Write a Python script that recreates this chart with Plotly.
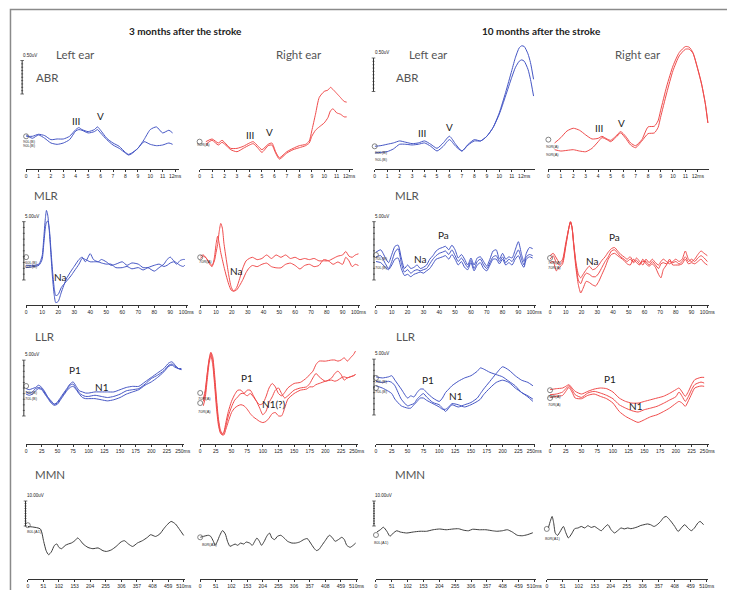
import plotly.graph_objects as go

W, H = 735, 590

# ---------------- data: latency (ms) and amplitude (uV) ----------------
# ABR, 3 months, left ear
abr3L_ms = [0, 0.5, 1, 1.5, 2, 2.5, 3, 3.5, 4, 4.25, 4.5, 5, 5.5, 5.75, 6, 6.5, 7, 7.5, 8, 8.25, 8.5, 9, 9.5, 10, 10.5, 11, 11.5, 11.8]
abr3L_1 = [0, 0, 0.03, 0.01, -0.05, -0.04, -0.04, 0, 0.1, 0.13, 0.1, 0.07, 0.1, 0.14, 0.09, -0.03, -0.1, -0.15, -0.24, -0.27, -0.25, -0.18, -0.05, 0.1, 0.14, 0.05, 0.09, 0.05]
abr3L_2 = [0.02, -0.03, 0.02, -0.03, -0.1, -0.12, -0.1, -0.05, 0.08, 0.1, 0.09, 0.05, 0.07, 0.1, 0.05, -0.05, -0.13, -0.18, -0.25, -0.28, -0.26, -0.18, -0.08, -0.12, -0.14, -0.13, -0.1, -0.12]

# ABR, 3 months, right ear
abr3R_ms = [0.5, 1, 1.5, 1.8, 2.2, 2.5, 3, 3.5, 4, 4.3, 4.7, 5, 5.5, 5.8, 6.1, 6.4, 7, 7.5, 8, 8.5, 8.8, 9, 9.3, 9.6, 10, 10.3, 10.5, 10.7, 11, 11.3, 11.6, 11.8]
abr3R_1 = [0.02, 0.06, 0, 0.04, -0.03, -0.08, -0.08, -0.05, 0, 0.02, -0.05, -0.1, -0.02, 0, -0.13, -0.22, -0.13, -0.08, -0.04, -0.02, 0.03, 0.18, 0.43, 0.68, 0.77, 0.79, 0.83, 0.8, 0.74, 0.68, 0.62, 0.61]
abr3R_2 = [-0.02, 0.04, -0.03, 0.01, -0.05, -0.1, -0.13, -0.08, -0.03, -0.01, -0.08, -0.14, -0.04, -0.03, -0.15, -0.24, -0.15, -0.1, -0.07, -0.04, 0, 0.1, 0.19, 0.24, 0.3, 0.38, 0.48, 0.51, 0.45, 0.43, 0.39, 0.39]

# ABR, 10 months, left ear
abr10L_ms = [0, 0.5, 1, 1.5, 2, 2.5, 3, 3.5, 4, 4.5, 5, 5.5, 6, 6.5, 7, 7.5, 8, 8.5, 9, 9.5, 10, 10.5, 11, 11.3, 11.6, 11.8, 12, 12.3, 12.5, 12.75]
abr10L_1 = [0, 0.01, 0.03, 0.05, 0.08, 0.06, 0.04, 0.05, 0.08, 0.03, -0.03, 0.05, 0.15, 0.03, -0.07, 0.03, 0.1, 0.08, 0.15, 0.28, 0.5, 0.8, 1.13, 1.33, 1.47, 1.5, 1.49, 1.38, 1.25, 1.0]
abr10L_2 = [-0.1, -0.09, -0.08, -0.04, 0.03, 0.03, 0.02, 0.03, 0.05, 0, -0.07, 0, 0.1, 0, -0.07, 0.02, 0.08, 0.08, 0.15, 0.28, 0.48, 0.75, 1.03, 1.18, 1.27, 1.29, 1.27, 1.15, 1.0, 0.75]

# ABR, 10 months, right ear
abr10R_ms = [0.5, 1, 1.5, 2, 2.5, 3, 3.5, 4, 4.3, 4.7, 5, 5.4, 5.8, 6.2, 6.6, 7, 7.5, 8, 8.5, 8.8, 9, 9.5, 10, 10.5, 11, 11.3, 11.6, 12, 12.3, 12.6, 12.8]
abr10R_1 = [0, 0.08, 0.18, 0.22, 0.19, 0.12, 0.06, 0.07, 0.1, 0.06, 0.04, 0.1, 0.17, 0.1, 0, -0.04, 0.05, 0.24, 0.25, 0.33, 0.48, 0.85, 1.15, 1.35, 1.44, 1.43, 1.35, 1.1, 0.88, 0.58, 0.3]
abr10R_2 = [-0.1, -0.12, -0.11, -0.1, -0.12, -0.13, -0.08, 0.02, 0.08, 0.05, 0.02, 0.08, 0.15, 0.07, -0.03, -0.07, 0.03, 0.14, 0.15, 0.23, 0.38, 0.75, 1.08, 1.3, 1.4, 1.4, 1.34, 1.09, 0.87, 0.58, 0.3]

# MLR, 3 months, left ear
mlr3L_ms = [0, 5, 8, 10, 11, 12, 12.7, 13.5, 14.5, 15.5, 16.5, 17.5, 18.5, 20, 22, 25, 28, 30, 33, 35, 37, 40, 42, 45, 47, 50, 53, 56, 60, 63, 66, 70, 73, 76, 80, 83, 86, 88, 90, 92, 94, 96, 98, 99]
mlr3L_1 = [0, 0, 0.1, 0.8, 2.3, 4.0, 4.7, 4.3, 2.9, 0.9, -1.1, -2.5, -3.2, -3.1, -2.3, -1.2, -0.5, -0.1, 0.5, 0.7, 0.3, 1.0, 0.5, 0.3, 0.5, 0.3, 0, 0.1, 0.3, 0, 0.2, 0.1, -0.2, -0.2, -0.5, -0.2, 0.1, 0.5, 0.7, 0.4, 0.2, 0, -0.1, 0]
mlr3L_2 = [-0.2, -0.1, 0, 0.5, 1.8, 3.2, 3.7, 3.8, 3.1, 1.3, -0.5, -1.9, -2.6, -2.5, -1.9, -1.4, -0.9, -0.5, 0.1, 0.6, 0.5, 0.3, 0.3, 0.3, 0.2, 0.1, 0.1, -0.2, -0.2, -0.1, -0.3, -0.2, -0.4, -0.2, 0, 0.1, -0.1, 0, 0.2, 0.3, 0.1, 0.4, 0.5, 0.5]

# MLR, 3 months, right ear
mlr3R_ms = [0, 2, 4, 6, 7.5, 9, 10, 11, 12, 13, 14, 15, 16.5, 18, 19.5, 21, 23, 25, 27, 29, 31, 33, 36, 39, 42, 45, 48, 51, 54, 57, 60, 63, 66, 69, 72, 75, 78, 81, 84, 87, 90, 92, 94, 96, 98, 100]
mlr3R_1 = [0.1, 0.2, -0.1, -0.6, -0.8, 0, 1.1, 1.8, 1.2, 0.4, -0.2, -0.8, -1.6, -2.3, -2.8, -2.9, -2.6, -1.8, -0.9, -0.3, -0.1, 0, -0.2, -0.1, 0.2, -0.1, 0.2, 0, 0.2, -0.1, 0, -0.2, -0.1, -0.2, -0.1, -0.3, -0.3, -0.3, -0.1, 0.1, 0.2, 0.5, 0.1, 0, 0.2, 0.3]
mlr3R_2 = [-0.1, 0.1, -0.1, -0.5, -0.7, -0.3, 0.4, 1.1, 2.2, 2.9, 2.5, 1.2, -0.2, -1.5, -2.5, -2.9, -2.8, -2.4, -1.9, -1.3, -0.9, -0.7, -0.8, -0.6, -0.5, -0.8, -0.9, -0.9, -0.6, -0.5, -0.7, -1.0, -0.7, -0.6, -0.8, -0.7, -0.2, -0.3, -0.6, -0.4, -0.6, 0, -0.3, -0.8, -0.6, -0.7]

# MLR, 10 months, left ear
mlr10L_ms = [0, 3, 6, 8, 10, 12, 14, 16, 18, 20, 22, 24, 26, 28, 30, 32, 34, 36, 38, 40, 42, 44, 46, 48, 50, 52, 54, 56, 58, 60, 62, 64, 66, 68, 70, 72, 74, 76, 78, 80, 82, 84, 86, 88, 90, 92, 93.5, 95, 97, 99]
mlr10L_1 = [0.5, 0.7, 0, -0.4, 0.3, 1.0, 1.1, 0, -0.9, -0.6, -0.9, -0.8, -0.6, -0.9, -0.8, -0.6, -0.1, 0.2, 0.6, 0.8, 0.9, 1.0, 0.7, 1.1, 0.7, 0, 0.3, -0.1, -0.6, 0, -0.6, 0, 0.1, -0.3, -0.7, -0.1, 0.6, 0.7, -0.1, 0.4, -0.1, 0.1, 0, 0.7, 1.4, 0.3, -0.3, 0.4, 0.9, 0.8]
mlr10L_2 = [0.1, 0.2, -0.5, -0.9, -0.3, 0.5, 0.8, -0.4, -1.2, -1.0, -1.3, -1.1, -1.0, -1.1, -1.0, -0.9, -0.5, -0.1, 0.2, 0.4, 0.5, 0.6, 0.3, 0.7, 0.2, -0.3, 0, -0.4, -0.8, -0.2, -0.9, -0.3, -0.1, -0.6, -0.9, -0.4, 0.1, 0.2, -0.3, 0.1, -0.4, -0.1, -0.3, 0.2, 0.7, -0.1, -0.6, 0.1, 0.3, 0.2]
mlr10L_3 = [-0.3, -0.4, -0.8, -1.0, -0.6, -0.1, 0, -0.9, -1.5, -1.4, -1.6, -1.4, -1.3, -1.2, -1.3, -1.1, -0.9, -0.5, -0.1, 0, 0.1, 0.2, -0.1, 0.3, -0.1, -0.6, -0.3, -0.8, -1.0, -0.4, -1.1, -0.6, -0.4, -0.9, -1.1, -0.6, -0.1, -0.1, -0.5, -0.1, -0.6, -0.4, -0.6, -0.1, 0.2, -0.5, -0.8, -0.1, 0.1, 0]

# MLR, 10 months, right ear
mlr10R_ms = [0, 2, 4, 6, 8, 10, 12, 13, 14, 15, 16.5, 18, 19.5, 21, 23, 25, 27, 29, 31, 33, 35, 37, 39, 41, 43, 45, 47, 49, 51, 53, 55, 57, 59, 61, 63, 65, 67, 69, 70.5, 72, 74, 76, 78, 80, 82, 84, 86, 88, 90, 92, 94, 96, 98, 100]
mlr10R_1 = [0.2, 0.4, 0, -0.4, -0.1, 1.3, 2.6, 3.1, 2.6, 1.3, -0.4, -1.4, -1.7, -1.4, -1.0, -0.7, -1.0, -0.9, -0.6, -0.2, 0.1, 0.5, 0.8, 0.9, 0.6, 0.3, 0.1, -0.1, 0.1, -0.3, 0, -0.3, -0.6, -0.1, -0.4, -0.1, -0.4, -0.6, -0.3, -0.1, -0.3, -0.5, -0.3, -0.1, -0.3, -0.1, 0.6, -0.1, -0.3, -0.1, 0.3, 0.6, 0.4, 0.2]
mlr10R_2 = [-0.1, 0.2, -0.4, -0.6, -0.3, 1.1, 2.6, 3.1, 2.6, 1.3, -0.6, -1.9, -2.2, -1.7, -1.3, -1.4, -1.6, -1.6, -1.3, -0.8, -0.3, 0.1, 0.6, 0.7, 0.4, 0.1, -0.1, -0.3, -0.1, -0.4, -0.2, -0.5, -0.3, -0.3, -0.6, -0.3, -0.6, -0.9, -0.5, -0.4, -0.5, -0.3, -0.4, -0.3, -0.5, -0.3, 0.1, -0.3, -0.1, -0.3, 0, 0.2, 0, -0.3]
mlr10R_3 = [-0.4, -0.3, -1.1, -0.8, -0.5, 1.0, 2.6, 3.1, 2.6, 1.1, -0.9, -2.3, -3.0, -2.6, -2.0, -2.1, -2.3, -2.4, -2.0, -1.4, -0.8, -0.1, 0.3, 0.4, 0.2, 0, -0.2, -0.5, -0.6, -0.1, -0.4, -0.6, -0.1, -0.5, -0.7, -0.5, -0.8, -1.4, -1.7, -1.0, -0.6, -0.1, -0.6, -0.6, -0.6, -0.5, -0.1, -0.5, -0.4, -0.5, -0.3, -0.1, -0.4, -0.6]

# LLR, 3 months, left ear
llr3L_ms = [0, 5, 10, 15, 20, 25, 30, 35, 40, 45, 50, 55, 60, 65, 70, 75, 80, 85, 90, 95, 100, 110, 120, 130, 140, 150, 160, 170, 180, 190, 200, 210, 220, 228, 233, 238, 243, 248]
llr3L_1 = [0.1, 0, 0.1, 0.2, 0.4, 0.2, -0.2, -0.7, -1.0, -1.3, -1.1, -0.7, -0.3, 0.1, 0.5, 0.7, 0.3, -0.1, -0.2, -0.3, -0.3, -0.2, -0.2, -0.2, -0.2, 0, 0.2, 0.3, 0.3, 0.7, 1.1, 1.5, 1.9, 2.4, 2.5, 2.2, 1.9, 1.9]
llr3L_2 = [-0.2, -0.3, -0.2, 0.1, 0.2, 0.1, -0.3, -0.7, -1.1, -1.3, -1.2, -0.8, -0.4, 0, 0.4, 0.5, 0.1, -0.3, -0.5, -0.6, -0.6, -0.5, -0.6, -0.7, -0.6, -0.4, -0.1, 0, 0.1, 0.5, 1.0, 1.3, 1.7, 2.2, 2.3, 2.1, 1.9, 1.8]
llr3L_3 = [-0.4, -0.5, -0.4, -0.1, 0.1, 0, -0.4, -0.8, -1.2, -1.4, -1.3, -0.9, -0.5, -0.1, 0.2, 0.3, 0, -0.4, -0.7, -0.8, -0.8, -0.8, -0.9, -1.0, -0.9, -0.7, -0.4, -0.2, 0, 0.4, 0.7, 1.1, 1.6, 2.1, 2.2, 2.0, 1.9, 1.8]

# LLR, 3 months, right ear
llr3R_ms = [5, 8, 11, 14, 17, 20, 23, 26, 29, 32, 35, 38, 41, 45, 50, 55, 60, 65, 70, 75, 80, 85, 90, 95, 100, 105, 110, 115, 120, 125, 130, 135, 140, 150, 160, 170, 175, 180, 185, 190, 200, 210, 215, 220, 225, 230, 235, 240, 245, 248]
llr3R_1 = [-0.1, 0.7, 2.1, 3.4, 4.1, 3.7, 2.1, 0, -1.8, -2.8, -3.2, -3.0, -2.2, -1.2, -0.3, 0.3, 0.7, 0.7, 0.4, 0.2, 0.4, 0.1, -0.3, -0.6, -0.5, 0.1, 0.9, 1.3, 1.0, 0.4, 0.2, 0.5, 0.9, 1.3, 1.4, 1.8, 2.1, 2.4, 3.0, 3.3, 3.3, 3.4, 3.4, 3.3, 3.4, 3.6, 3.3, 3.6, 3.9, 4.2]
llr3R_2 = [-0.3, 0.4, 2.0, 3.3, 4.0, 3.4, 1.6, -0.4, -2.1, -3.0, -3.3, -3.1, -2.5, -1.6, -0.8, -0.2, 0.1, 0.4, 0.4, 0.7, 0.7, 0.2, -0.3, -0.9, -1.5, -1.2, -0.4, 0.1, 0.7, 0.9, 0.4, 0, 0.2, 0.7, 0.9, 1.0, 1.3, 1.8, 2.2, 1.9, 1.5, 1.8, 2.2, 2.4, 2.1, 1.6, 1.8, 1.9, 2.0, 2.1]
llr3R_3 = [-0.7, 0, 1.5, 3.0, 3.8, 3.0, 1.2, -0.9, -2.4, -3.1, -3.3, -3.3, -2.8, -2.1, -1.3, -0.9, -0.7, -0.6, -0.7, -1.0, -1.4, -1.7, -1.9, -2.1, -2.2, -2.1, -1.8, -1.4, -1.3, -1.6, -1.6, -0.9, -0.1, 0.4, 0.7, 0.8, 1.0, 1.0, 1.2, 1.3, 1.5, 1.6, 1.5, 1.6, 1.8, 1.9, 1.8, 1.9, 2.0, 2.1]

# LLR, 10 months, left ear
llr10L_ms = [0, 10, 20, 25, 30, 40, 50, 55, 60, 65, 70, 75, 80, 90, 100, 105, 110, 115, 120, 130, 140, 150, 160, 165, 170, 180, 190, 200, 210, 220, 230, 240, 248]
llr10L_1 = [0.4, 0.3, 0.4, 0.5, 0.1, -0.7, -1.5, -1.3, -1.4, -1.0, -0.7, -0.7, -1.0, -1.5, -1.8, -1.5, -1.0, -0.7, -0.4, 0, 0.3, 0.5, 0.9, 1.2, 1.1, 0.8, 0.6, 0.4, 0, -0.4, -1.0, -1.3, -1.6]
llr10L_2 = [0, -0.1, 0, -0.1, -0.4, -1.6, -2.2, -2.1, -2.0, -1.6, -1.3, -1.1, -1.4, -1.9, -2.1, -2.4, -2.7, -2.4, -2.1, -2.3, -2.1, -1.9, -1.5, -1.1, -0.7, 0, 0.7, 1.3, 1.0, 0.5, 0.1, -0.1, -0.4]
llr10L_3 = [-0.4, -0.6, -0.9, -1.1, -1.6, -2.2, -2.4, -2.4, -2.1, -1.8, -1.5, -1.5, -1.7, -2.0, -2.3, -2.5, -2.5, -2.3, -2.0, -2.1, -2.3, -2.1, -1.8, -1.6, -1.2, -0.6, -0.1, 0.1, -0.1, -0.6, -1.0, -1.4, -1.8]

# LLR, 10 months, right ear
llr10R_ms = [0, 10, 20, 25, 30, 35, 40, 50, 60, 70, 80, 90, 100, 110, 120, 130, 140, 150, 160, 170, 180, 190, 200, 205, 210, 215, 220, 225, 230, 240, 245]
llr10R_1 = [0.45, 0.54, 0.6, 0.75, 0.9, 0.6, 0.3, 0.06, 0.3, 0.5, 0.6, 0.54, 0.24, -0.3, -0.6, -0.75, -0.75, -0.6, -0.45, -0.3, -0.15, 0.12, 0.45, 0.6, 0.24, -0.15, 0.3, 0.9, 1.34, 1.55, 1.55]
llr10R_2 = [0, 0.06, 0.24, 0.54, 0.8, 0.45, 0, -0.24, 0.15, 0.3, 0.15, -0.06, -0.36, -0.9, -1.2, -1.43, -1.55, -1.34, -1.2, -1.04, -0.78, -0.48, -0.18, 0.24, -0.15, -0.6, -0.15, 0.45, 0.9, 1.13, 1.04]
llr10R_3 = [-0.24, -0.15, -0.06, 0.3, 0.66, 0.24, -0.3, -0.36, -0.06, 0.06, -0.15, -0.36, -0.75, -1.5, -1.94, -2.24, -2.48, -2.24, -1.97, -1.8, -1.52, -1.2, -0.78, -0.6, -0.75, -1.04, -0.54, 0.06, 0.6, 0.78, 0.75]

# MMN
mmn3L_ms = [0, 41, 52, 60, 68, 77, 87, 95, 102, 111, 122, 133, 143, 154, 163, 170, 181, 197, 213, 230, 246, 257, 273, 289, 305, 316, 329, 343, 359, 375, 391, 402, 418, 432, 445, 456, 469, 483, 497, 510]
mmn3L_v = [0.9, -0.1, -5.1, -8.8, -10.4, -9.3, -6.7, -6.1, -7.5, -8.0, -6.7, -6.1, -5.7, -4.8, -3.7, -4.4, -6.1, -7.5, -8.0, -7.7, -8.8, -9.1, -8.5, -7.1, -5.3, -4.8, -6.1, -7.1, -5.7, -4.8, -3.5, -2.4, -3.1, -2.1, 0, 1.6, 2.9, 1.9, -0.4, -2.7]

mmn3R_ms = [0, 27, 34, 43, 49, 56, 64, 73, 82, 89, 97, 105, 114, 122, 132, 142, 150, 161, 170, 178, 185, 193, 200, 209, 217, 226, 234, 243, 252, 263, 274, 285, 299, 311, 324, 338, 349, 360, 371, 379, 387, 397, 408, 421, 430, 440, 451, 462, 470, 478, 489, 499, 507]
mmn3R_v = [0, 0.8, 0.4, -1.6, -3.2, -1.6, 0.8, 2.7, 1.3, -1.6, -3.6, -3.2, -2.7, -3.2, -2.3, -2.7, -1.9, -2.3, -3.2, -1.6, -0.3, -1.6, -3.2, -1.6, 0.4, 1.7, -0.3, -0.9, 0.4, 0.8, -0.3, -1.6, -2.3, -2.3, -1.9, -0.9, -0.5, -2.3, -4.3, -5.3, -4.9, -3.2, -1.3, 0.8, 0, -1.6, -0.9, 0, -0.9, -3.2, -4.0, -3.2, -2.3]

mmn10L_ms = [3, 14, 24, 35, 45, 56, 67, 78, 99, 120, 142, 163, 184, 205, 226, 248, 266, 283, 298, 311, 333, 354, 375, 389, 407, 423, 439, 455, 471, 487, 505]
mmn10L_v = [0.4, 1.3, 2.3, 0.7, -1.3, 0, 0.9, 0.4, 0, 0.4, 0.7, 0.7, 1.3, 1.6, 1.3, 1.6, 1.7, 1.1, 0.9, 1.5, 1.3, 1.3, 0.9, 0.7, 0.9, 1.3, 0.4, -0.9, -1.1, -0.7, 0.1]

mmn10R_ms = [5, 11, 17, 22, 27, 34, 42, 53, 61, 69, 79, 89, 100, 110, 121, 131, 142, 152, 163, 174, 184, 195, 205, 216, 226, 237, 247, 258, 268, 279, 289, 300, 310, 321, 331, 342, 352, 363, 373, 381, 389, 400, 408, 419, 429, 440, 450, 461, 471, 482, 489, 500]
mmn10R_v = [0.7, 3.3, 5.3, 2.7, -1.3, -2.3, -0.9, 1.3, -1.3, -3.3, -1.7, 0.4, 0.7, 1.3, 0.7, 1.6, 0.9, 1.3, 0.4, -0.4, 0.9, 2.0, 0, -1.3, -0.4, 0.7, 0.3, 0.7, 0.4, 0.7, 1.1, 1.7, 2.0, 2.3, 2.0, 1.3, 2.0, 3.3, 4.9, 5.3, 4.4, 2.7, 1.3, -0.7, 0.7, 2.0, 0.7, -0.4, 0.7, 2.7, 3.3, 2.0]

abr_ticks = list(range(0, 13))
mlr_ticks = list(range(0, 101, 10))
llr_ticks = list(range(0, 251, 25))
mmn_ticks = list(range(0, 511, 51))

# ---------------- layout ----------------
BLUE = "#4556c4"
RED = "#ef4b4b"
BLACK = "#3c3c3c"
LABEL_FONT = "Lato, Liberation Sans, sans-serif"
SMALL_FONT = "Liberation Sans, Arial, sans-serif"

# axis line y, top of plot area (px), px per uV, ticks, scale bar amplitude and text
rows = {
    "ABR": dict(axis=161, top=28, ppu=67.0, ticks=abr_ticks, bar=0.5, bar_txt="0.50uV"),
    "MLR": dict(axis=297, top=175, ppu=11.67, ticks=mlr_ticks, bar=5, bar_txt="5.00uV"),
    "LLR": dict(axis=436, top=315, ppu=11.17, ticks=llr_ticks, bar=5, bar_txt="5.00uV"),
    "MMN": dict(axis=571, top=455, ppu=2.5, ticks=mmn_ticks, bar=10, bar_txt="10.00uV"),
}

panels = [
    dict(row="ABR", x0=17.3, ppms=12.55, xmax=12.3, base=128.3, color=BLUE, x=abr3L_ms, ys=[abr3L_1, abr3L_2],
         marks=[0], tags=[("90L(B)", 12.5, 133), ("90L(B)", 12.5, 137)], bar=(13.3, 86),
         peaks=[("III", 4.0, 0.23), ("V", 6.0, 0.3)]),
    dict(row="ABR", x0=192.7, ppms=12.6, xmax=12.3, base=135, color=RED, x=abr3R_ms, ys=[abr3R_1, abr3R_2],
         marks=[0.02], tags=[("90R(A)", 188, 136)],
         peaks=[("III", 4.07, 0.12), ("V", 5.6, 0.16)]),
    dict(row="ABR", x0=369.7, ppms=12.6, xmax=12.9, base=138.3, color=BLUE, x=abr10L_ms, ys=[abr10L_1, abr10L_2],
         marks=[0], tags=[("90L(B)", 368, 144), ("90L(B)", 368, 151)], bar=(368.5, 83.5),
         peaks=[("III", 3.83, 0.2), ("V", 6.03, 0.29)]),
    dict(row="ABR", x0=545.3, ppms=12.6, xmax=12.9, base=135, color=RED, x=abr10R_ms, ys=[abr10R_1, abr10R_2],
         marks=[0.05], tags=[("90R(A)", 541, 138), ("90R(A)", 541, 146)],
         peaks=[("III", 4.1, 0.22), ("V", 5.87, 0.3)]),
    dict(row="MLR", x0=17.3, ppms=1.62, xmax=101, base=257.3, color=BLUE, x=mlr3L_ms, ys=[mlr3L_1, mlr3L_2],
         marks=[0.7], tags=[("60L(B)", 14, 254), ("60L(B)", 14, 258)], bar=(15, 272),
         peaks=[("Na", 21.2, -0.98)]),
    dict(row="MLR", x0=193.3, ppms=1.6, xmax=101, base=249.3, color=RED, x=mlr3R_ms, ys=[mlr3R_1, mlr3R_2],
         marks=[0], tags=[("70R(A)", 190, 253)],
         peaks=[("Na", 22.9, -1.15)]),
    dict(row="MLR", x0=371, ppms=1.6, xmax=101, base=250, color=BLUE, x=mlr10L_ms, ys=[mlr10L_1, mlr10L_2, mlr10L_3],
         marks=[0.26], tags=[("70L(B)", 368, 250), ("70L(B)", 368, 259)], bar=(369, 272),
         peaks=[("Na", 27.7, -0.09), ("Pa", 42.7, 1.94)]),
    dict(row="MLR", x0=547, ppms=1.59, xmax=101, base=250, color=RED, x=mlr10R_ms, ys=[mlr10R_1, mlr10R_2, mlr10R_3],
         marks=[0], tags=[("70R(A)", 543, 255), ("70R(A)", 543, 259)],
         peaks=[("Na", 26.7, -0.23), ("Pa", 40.7, 1.77)]),
    dict(row="LLR", x0=17.3, ppms=0.633, xmax=252, base=381.7, color=BLUE, x=llr3L_ms, ys=[llr3L_1, llr3L_2, llr3L_3],
         marks=[0.33], tags=[("70L(B)", 14, 384), ("70L(B)", 14, 390)], bar=(15, 408),
         peaks=[("P1", 78, 1.74), ("N1", 121, 0.27)]),
    dict(row="LLR", x0=193.3, ppms=0.633, xmax=252, base=390, color=RED, x=llr3R_ms, ys=[llr3R_1, llr3R_2, llr3R_3],
         marks=[0.45, -0.45], tags=[("70R(A)", 189, 390), ("70R(A)", 189, 403)],
         peaks=[("P1", 74.5, 1.79), ("N1(?)", 118, -0.54)]),
    dict(row="LLR", x0=371, ppms=0.64, xmax=252, base=373.3, color=BLUE, x=llr10L_ms, ys=[llr10L_1, llr10L_2, llr10L_3],
         marks=[0.3, -0.6], tags=[("70L(B)", 368, 373), ("70L(B)", 368, 383)], bar=(369, 407),
         peaks=[("P1", 81.5, 0.14), ("N1", 126.5, -1.34)]),
    dict(row="LLR", x0=547, ppms=0.636, xmax=252, base=386.7, color=RED, x=llr10R_ms, ys=[llr10R_1, llr10R_2, llr10R_3],
         marks=[0.4, -0.3], tags=[("70R(A)", 543, 388), ("70R(A)", 543, 396)],
         peaks=[("P1", 95.5, 1.4), ("N1", 136.5, -1.04)]),
    dict(row="MMN", x0=19, ppms=0.309, xmax=515, base=520.7, color=BLACK, x=mmn3L_ms, ys=[mmn3L_v],
         marks=[1.4], tags=[("80L(A1)", 16, 523)], bar=(16.7, 518), peaks=[]),
    dict(row="MMN", x0=193.3, ppms=0.31, xmax=515, base=529.3, color=BLACK, x=mmn3R_ms, ys=[mmn3R_v],
         marks=[0], tags=[("80R(A1)", 193, 536)], peaks=[]),
    dict(row="MMN", x0=371, ppms=0.314, xmax=515, base=525, color=BLACK, x=mmn10L_ms, ys=[mmn10L_v],
         marks=[-0.8], tags=[("80L(A1)", 367, 534)], bar=(369, 518), peaks=[]),
    dict(row="MMN", x0=543.7, ppms=0.317, xmax=515, base=521.7, color=BLACK, x=mmn10R_ms, ys=[mmn10R_v],
         marks=[0.3], tags=[("80R(A1)", 540, 530)], peaks=[]),
]


def fx(px):
    return px / W


def fy(py):
    return 1 - py / H


fig = go.Figure()
axes = {}
annotations = []
shapes = []

for i, p in enumerate(panels, start=1):
    r = rows[p["row"]]
    xa, ya = ("x", "y") if i == 1 else (f"x{i}", f"y{i}")
    xkey, ykey = ("xaxis", "yaxis") if i == 1 else (f"xaxis{i}", f"yaxis{i}")
    ticktext = [str(t) for t in r["ticks"]]
    ticktext[-1] += "ms"
    axes[xkey] = dict(
        domain=[fx(p["x0"]), fx(p["x0"] + p["xmax"] * p["ppms"])], range=[0, p["xmax"]],
        anchor=ya, showgrid=False, zeroline=False, showline=True, linecolor="#333", linewidth=1,
        ticks="outside", ticklen=2, tickwidth=1, tickcolor="#333",
        tickvals=r["ticks"], ticktext=ticktext,
        tickfont=dict(family=SMALL_FONT, size=5, color="#222"), fixedrange=True,
    )
    lo = -(r["axis"] - p["base"]) / r["ppu"]
    hi = (p["base"] - r["top"]) / r["ppu"]
    axes[ykey] = dict(domain=[fy(r["axis"]), fy(r["top"])], range=[lo, hi], anchor=xa,
                      visible=False, fixedrange=True)

    for ys in p["ys"]:
        fig.add_trace(go.Scatter(x=p["x"], y=ys, xaxis=xa, yaxis=ya, mode="lines",
                                 line=dict(color=p["color"], width=1, shape="spline", smoothing=0.6),
                                 hoverinfo="skip", showlegend=False))

    # start markers (open circles at the baseline)
    fig.add_trace(go.Scatter(x=[0] * len(p["marks"]), y=p["marks"], xaxis=xa, yaxis=ya,
                             mode="markers", cliponaxis=False,
                             marker=dict(symbol="circle-open", size=5, color="#666", line=dict(width=0.8)),
                             hoverinfo="skip", showlegend=False))

    for txt, tx, ty in p["tags"]:
        annotations.append(dict(text=txt, x=fx(tx), y=fy(ty), xref="paper", yref="paper",
                                xanchor="left", yanchor="middle", showarrow=False,
                                font=dict(family=SMALL_FONT, size=4, color="#333")))

    for txt, lx, ly in p["peaks"]:
        annotations.append(dict(text=txt, x=lx, y=ly, xref=xa, yref=ya, showarrow=False,
                                xanchor="center", yanchor="middle",
                                font=dict(family=LABEL_FONT, size=10, color="#222")))

    if "bar" in p:
        bx, bbot = p["bar"]
        y0 = (p["base"] - bbot) / r["ppu"]
        y1 = y0 + r["bar"]
        shapes.append(dict(type="line", xref="paper", yref=ya, x0=fx(bx), x1=fx(bx), y0=y0, y1=y1,
                           line=dict(color="#333", width=1)))
        for k in range(11):
            half = 1.8 if k in (0, 10) else 1.0
            yk = y0 + k * r["bar"] / 10
            shapes.append(dict(type="line", xref="paper", yref=ya, x0=fx(bx - half), x1=fx(bx + half),
                               y0=yk, y1=yk, line=dict(color="#333", width=0.7)))
        annotations.append(dict(text=r["bar_txt"], x=fx(bx - 1), y=y1, xref="paper", yref=ya,
                                xanchor="left", yanchor="bottom", yshift=1, showarrow=False,
                                font=dict(family=SMALL_FONT, size=4.5, color="#222")))

# headings
for txt, cx, cy in [("<b>3 months after the stroke</b>", 178, 23), ("<b>10 months after the stroke</b>", 538.5, 23)]:
    annotations.append(dict(text=txt, x=fx(cx), y=fy(cy), xref="paper", yref="paper", showarrow=False,
                            xanchor="center", yanchor="middle",
                            font=dict(family=LABEL_FONT, size=10, color="#222")))

for txt, cx, cy in [("Left ear", 67, 47), ("Right ear", 293, 47), ("Left ear", 424.5, 47), ("Right ear", 636, 47),
                    ("ABR", 38.5, 69), ("ABR", 403, 69), ("MLR", 38, 187), ("MLR", 403, 188),
                    ("LLR", 36, 328), ("LLR", 401.5, 328), ("MMN", 41.5, 466), ("MMN", 405.5, 466)]:
    annotations.append(dict(text=txt, x=fx(cx), y=fy(cy), xref="paper", yref="paper", showarrow=False,
                            xanchor="center", yanchor="middle",
                            font=dict(family=LABEL_FONT, size=11.5, color="#555")))

# outer frame
shapes.append(dict(type="rect", xref="paper", yref="paper", x0=fx(1.5), x1=fx(732.5), y0=fy(587.5), y1=fy(1.5),
                   line=dict(color="#8a8a8a", width=1.5)))

fig.update_layout(
    width=W, height=H, margin=dict(l=0, r=0, t=0, b=0),
    paper_bgcolor="white", plot_bgcolor="rgba(0,0,0,0)",
    showlegend=False, annotations=annotations, shapes=shapes, **axes,
)

fig.write_html("out.html")
